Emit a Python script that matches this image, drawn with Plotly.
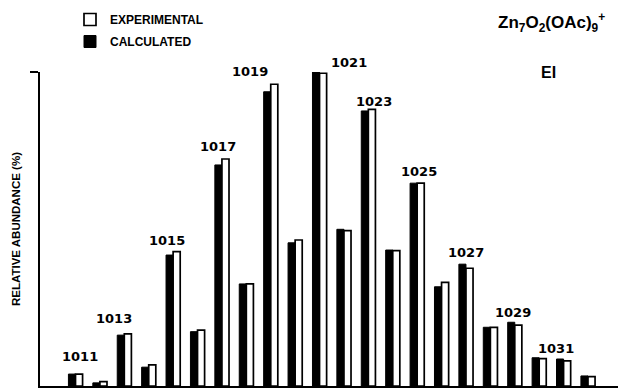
import plotly.graph_objects as go

# ---- data ----
masses = list(range(1011, 1033))
calculated = [3.8, 1.0, 16.2, 6.0, 41.7, 17.3, 70.4, 32.5, 93.7, 45.6, 100.0,
              49.9, 87.6, 43.3, 64.6, 31.6, 38.8, 18.7, 20.3, 9.0, 8.6, 3.2]
experimental = [3.8, 1.4, 16.6, 6.7, 42.8, 17.8, 72.3, 32.5, 96.1, 46.5, 99.6,
                49.5, 88.1, 43.1, 64.6, 33.0, 37.5, 18.7, 19.4, 8.7, 8.0, 3.0]
labelled_masses = [1011, 1013, 1015, 1017, 1019, 1021, 1023, 1025, 1027, 1029, 1031]

# label placement tweaks (pixels) - layout only
label_dx = [4, -10, -6, -4, -21, 29, 6, 2, 0, -2, -8]
label_dy = [8, 6, 2, 3, 3, 0, -2, 2, 2, 0, 1]

W, H = 618, 390
ML, MR, MT, MB = 40, 0, 72, 4
PW, PH = W - ML - MR, H - MT - MB

def px(x):
    return (x - ML) / PW

def py(y):
    return (H - MB - y) / PH

LABEL_FONT = "DejaVu Sans"
HELV = "Liberation Sans"

fig = go.Figure()
fig.add_trace(go.Bar(
    x=masses, y=calculated, name="CALCULATED",
    marker=dict(color="black", line=dict(color="black", width=1)),
    legendrank=2, legendgroup="calc", hoverinfo="x+y",
))
fig.add_trace(go.Bar(
    x=masses, y=experimental, name="EXPERIMENTAL",
    marker=dict(color="white", line=dict(color="black", width=1.7)),
    legendrank=1, legendgroup="exp", hoverinfo="x+y",
))

annotations = []
for m, dx, dy in zip(labelled_masses, label_dx, label_dy):
    i = masses.index(m)
    top = max(calculated[i], experimental[i])
    annotations.append(dict(
        x=m, y=top, xref="x", yref="y", text=str(m), showarrow=False,
        xanchor="center", yanchor="bottom", xshift=dx, yshift=dy,
        font=dict(family=LABEL_FONT, size=13, color="black", weight="bold"),
    ))

annotations.append(dict(
    x=px(551), y=py(22), xref="paper", yref="paper", showarrow=False,
    text="Zn<sub>7</sub>O<sub>2</sub>(OAc)<sub>9</sub><sup>+</sup>",
    xanchor="center", yanchor="middle",
    font=dict(family=HELV, size=17, color="black", weight="bold"),
))
annotations.append(dict(
    x=px(548), y=py(72), xref="paper", yref="paper", showarrow=False,
    text="EI", xanchor="center", yanchor="middle",
    font=dict(family=HELV, size=16, color="black", weight="bold"),
))

fig.update_layout(
    width=W, height=H,
    margin=dict(l=ML, r=MR, t=MT, b=MB, autoexpand=False),
    paper_bgcolor="white", plot_bgcolor="white",
    barmode="group", bargap=0.42, bargroupgap=0.0,
    showlegend=True,
    legend=dict(
        x=px(70), y=py(5), xanchor="left", yanchor="top",
        font=dict(family=HELV, size=12, color="black", weight="bold"),
        bgcolor="rgba(0,0,0,0)", tracegroupgap=3,
    ),
    annotations=annotations,
    xaxis=dict(
        range=[1009.545, 1033.23], showline=True, linecolor="black", linewidth=1.6,
        showgrid=False, zeroline=False, showticklabels=False, ticks="",
        fixedrange=True,
    ),
    yaxis=dict(
        range=[0, 100], showline=True, linecolor="black", linewidth=1.6,
        showgrid=False, zeroline=False, showticklabels=False,
        ticks="outside", tickvals=[100], ticklen=8, tickwidth=1.6, tickcolor="black",
        title=dict(text="RELATIVE ABUNDANCE (%)", standoff=7,
                   font=dict(family=HELV, size=11.5, color="black", weight="bold")),
        fixedrange=True, automargin=False,
    ),
)

fig.write_html("out.html", config={"displayModeBar": False},
               post_script="document.body.style.margin='0px';")
